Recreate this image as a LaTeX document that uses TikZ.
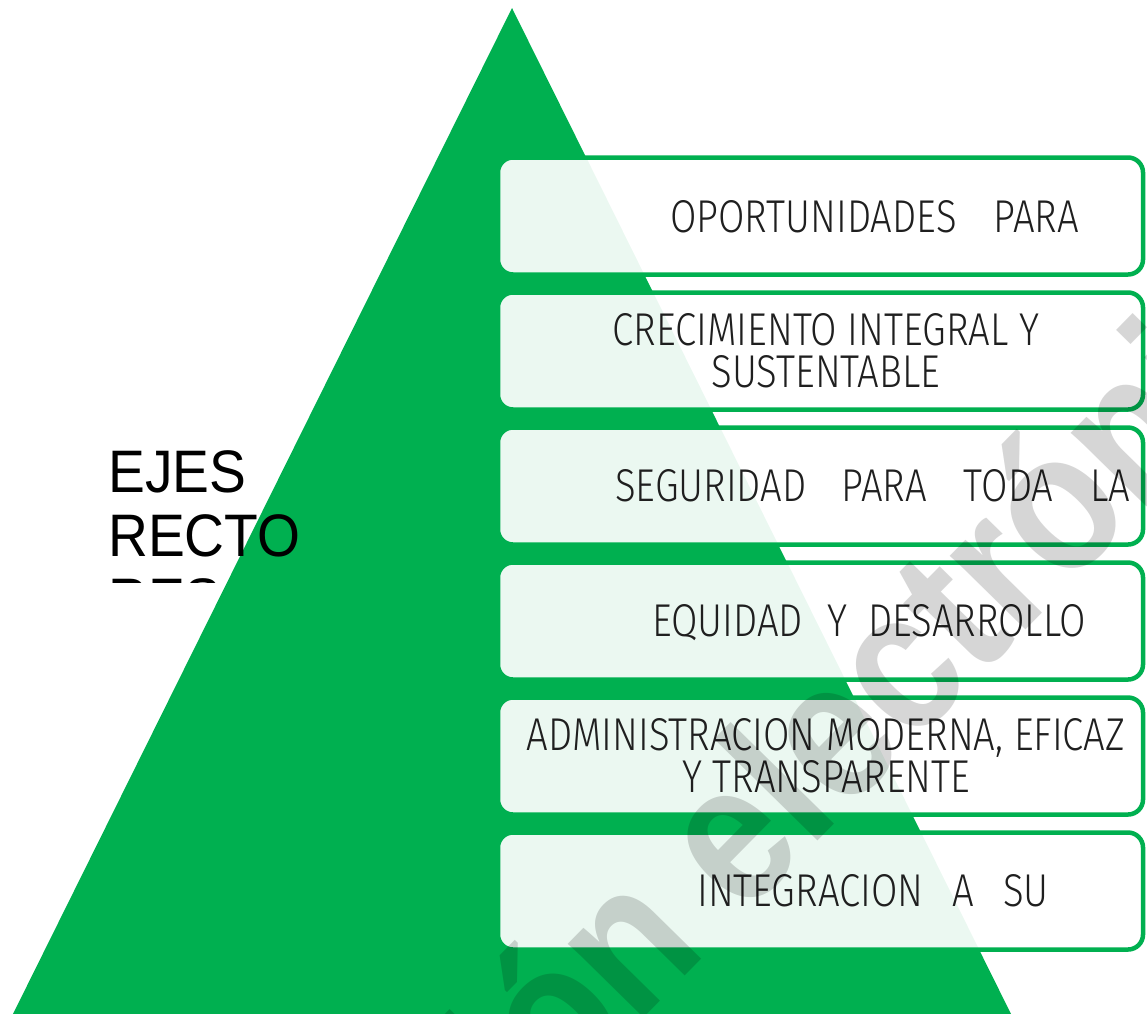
\documentclass[tikz,border=0pt]{standalone}
\usepackage{fontspec}
\setmainfont{Liberation Sans}
\newfontfamily\ejefont[FakeStretch=0.832]{Fira Sans Light}
\newfontfamily\titlefont[FakeStretch=0.92]{Liberation Sans}
\newfontfamily\markfont[FakeStretch=0.86]{Liberation Sans}
\definecolor{ejeGreen}{RGB}{0,176,80}
\newcommand{\wsp}[1]{\hspace*{#1pt}}
\tikzset{
  ejeBox/.style={draw=ejeGreen, line width=4.5pt, rounded corners=15pt,
    fill=white, fill opacity=0.92, minimum width=645pt, minimum height=117pt,
    inner sep=0pt},
  ejeText/.style={inner sep=0pt, text=black!88, align=center,
    font=\ejefont\fontsize{46}{42}\selectfont},
  waterMark/.style={inner sep=0pt, text=black, text opacity=0.16,
    font=\markfont\bfseries\fontsize{200}{200}\selectfont},
}
\begin{document}
\begin{tikzpicture}[x=1pt, y=-1pt]
      \useasboundingbox (0,0) rectangle (1147,1013);
      \clip (0,0) rectangle (1147,1013);
      % PYRAMID
      \fill[ejeGreen] (512,8) -- (1014,1020) -- (10,1020) -- cycle;
      % TITLE
      \begin{scope}
        \clip (0,0) rectangle (1147,582);
        \node[anchor=north west, inner sep=0, align=left,
          font=\titlefont\fontsize{60}{64}\selectfont] (ejesTitle) at (108,450) {EJES\\RECTO\\RES};
      \end{scope}
      % BOXES
      \node[ejeBox] (boxOne)   at (820.5,216) {};
      \node[ejeBox] (boxTwo)   at (820.5,351) {};
      \node[ejeBox] (boxThree) at (820.5,486) {};
      \node[ejeBox] (boxFour)  at (820.5,621) {};
      \node[ejeBox] (boxFive)  at (820.5,756) {};
      \node[ejeBox] (boxSix)   at (820.5,891) {};
      % TEXTS
      \node[ejeText, anchor=base west] (txtOne) at (670,232) {OPORTUNIDADES\wsp{37}PARA};
      \node[ejeText] (txtTwo) at (826,351) {CRECIMIENTO INTEGRAL Y\\SUSTENTABLE};
      \node[ejeText, anchor=base west] (txtThree) at (615,501) {SEGURIDAD\wsp{35}PARA\wsp{37}TODA\wsp{37}LA};
      \node[ejeText, anchor=base west] (txtFour) at (652,636) {EQUIDAD\wsp{24}Y\wsp{21}DESARROLLO};
      \node[ejeText] (txtFive) at (826,755.5) {ADMINISTRACION MODERNA, EFICAZ\\Y TRANSPARENTE};
      \node[ejeText, anchor=base west] (txtSix) at (697,906) {INTEGRACION\wsp{29}A\wsp{29}SU};
      % WATERMARK
      \node[waterMark, rotate=45.5] (wMark) at (775,782) {Versión electrónica};
    \end{tikzpicture}
\end{document}
